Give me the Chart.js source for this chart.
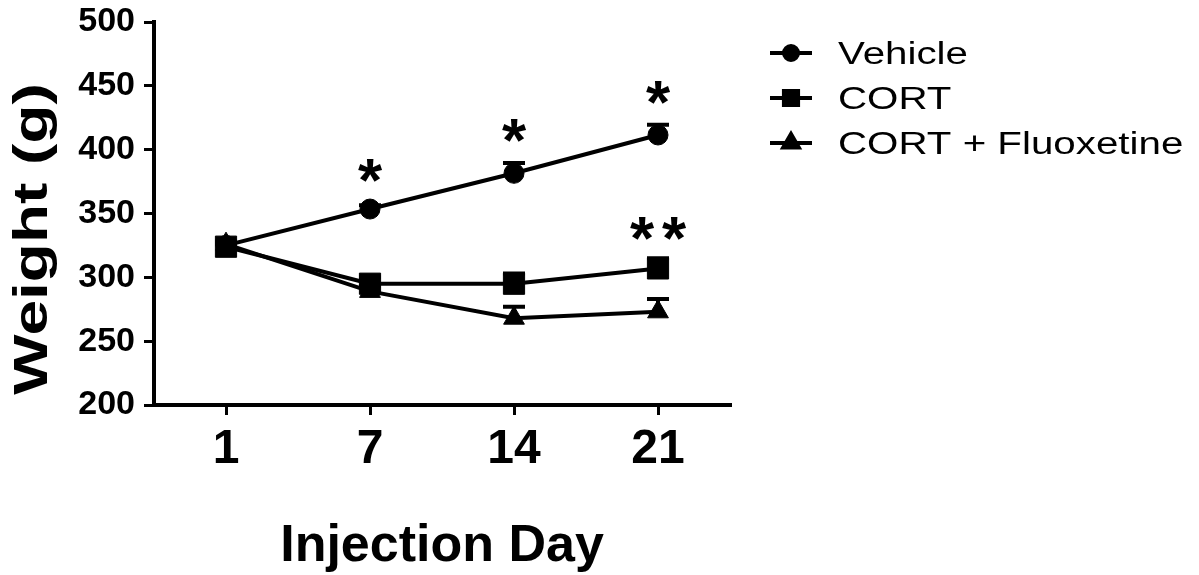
<!DOCTYPE html>
<html lang="en">
<head>
<meta charset="UTF-8">
<title>Weight by Injection Day</title>
<script src="https://cdn.jsdelivr.net/npm/chart.js"></script>
<style>
    * { margin: 0; padding: 0; box-sizing: border-box; }
    body { background: #fff; }
    .wrap { width: 1199px; height: 575px; position: relative; }
</style>
</head>
<body>
<div class="wrap"><canvas id="weightChart"></canvas></div>
<script>
    // data
    const days = ['1', '7', '14', '21'];
    const vehicle = [325, 353.5, 381.5, 411.5];
    const vehicleErr = [2, 3, 8, 8];
    const cort = [324, 295, 295, 307];
    const cortErr = [2, 5, 8, 8];
    const cortFlx = [326, 289, 268, 273];
    const cortFlxErr = [2, 4, 9, 10];
    const yMin = 200, yMax = 500, yStep = 50;

    // significance marks (text + the weight level they sit at)
    const vehicleStars = ['', '*', '*', '*'];
    const vehicleStarAt = [null, 384, 415, 445];
    const cortStars = ['', '', '', '**'];
    const cortStarAt = [null, null, null, 338.6];

    const FONT = "'Liberation Sans', Arial, sans-serif";
    const errs = [vehicleErr, cortErr, cortFlxErr];

    const errorBars = {
        id: 'errorBars',
        afterDatasetsDraw(chart) {
            const { ctx, scales: { x, y } } = chart;
            ctx.save();
            ctx.strokeStyle = '#000';
            ctx.lineWidth = 4;
            chart.data.datasets.forEach((ds, di) => {
                ds.data.forEach((v, i) => {
                    const px = x.getPixelForValue(i);
                    const y0 = y.getPixelForValue(v);
                    const y1 = y.getPixelForValue(v + errs[di][i]);
                    ctx.beginPath();
                    ctx.moveTo(px, y0);
                    ctx.lineTo(px, y1);
                    ctx.moveTo(px - 11, y1);
                    ctx.lineTo(px + 11, y1);
                    ctx.stroke();
                });
            });
            ctx.restore();
        }
    };

    const extras = {
        id: 'extras',
        afterDraw(chart) {
            const { ctx, scales: { x, y } } = chart;
            ctx.save();
            ctx.fillStyle = '#000';

            // asterisks
            ctx.font = 'bold 62px ' + FONT;
            ctx.textAlign = 'center';
            ctx.textBaseline = 'alphabetic';
            const m = ctx.measureText('*');
            const off = (m.actualBoundingBoxAscent - m.actualBoundingBoxDescent) / 2;
            const drawStars = (texts, at) => {
                texts.forEach((t, i) => {
                    if (!t) return;
                    const cx = x.getPixelForValue(i);
                    const cy = y.getPixelForValue(at[i]) + off;
                    const gap = 32;
                    const start = cx - (t.length - 1) * gap / 2;
                    for (let k = 0; k < t.length; k++) {
                        ctx.fillText(t[k], start + k * gap, cy);
                    }
                });
            };
            drawStars(vehicleStars, vehicleStarAt);
            drawStars(cortStars, cortStarAt);

            // x title
            ctx.font = 'bold 52px ' + FONT;
            ctx.textAlign = 'center';
            ctx.fillText('Injection Day', (chart.chartArea.left + chart.chartArea.right) / 2, 561);

            // y title
            ctx.save();
            ctx.translate(34, 239);
            ctx.rotate(-Math.PI / 2);
            ctx.scale(1, 0.74);
            ctx.font = 'bold 64px ' + FONT;
            const mt = ctx.measureText('Weight (g)');
            ctx.fillText('Weight (g)', 0, (mt.actualBoundingBoxAscent - mt.actualBoundingBoxDescent) / 2);
            ctx.restore();

            // legend
            const rows = [53, 98, 143];
            const legendR = [7, 10, 9];
            chart.data.datasets.forEach((ds, i) => {
                const ry = rows[i];
                ctx.strokeStyle = '#000';
                ctx.lineWidth = 4;
                ctx.beginPath();
                ctx.moveTo(770, ry);
                ctx.lineTo(812, ry);
                ctx.stroke();
                Chart.helpers.drawPoint(ctx, {
                    pointStyle: ds.pointStyle, radius: legendR[i], rotation: 0, borderWidth: 1
                }, 791, ry);
                ctx.fill();
                ctx.save();
                ctx.translate(838, ry + 11);
                ctx.scale(1.3, 1);
                ctx.font = '31px ' + FONT;
                ctx.textAlign = 'left';
                ctx.fillText(ds.label, 0, 0);
                ctx.restore();
            });
            ctx.restore();
        }
    };

    const axisGrid = {
        display: true,
        drawOnChartArea: false,
        drawTicks: true,
        tickLength: 10,
        color: '#000',
        lineWidth: 3
    };

    const line = (label, data, style, r) => ({
        label: label,
        data: data,
        borderColor: '#000',
        backgroundColor: '#000',
        borderWidth: 4,
        pointStyle: style,
        pointRadius: r,
        pointHoverRadius: r,
        pointBackgroundColor: '#000',
        pointBorderColor: '#000',
        pointBorderWidth: 1,
        tension: 0,
        fill: false
    });

    new Chart(document.getElementById('weightChart'), {
        type: 'line',
        data: {
            labels: days,
            datasets: [
                line('Vehicle', vehicle, 'circle', 10),
                line('CORT', cort, 'rect', 15),
                line('CORT + Fluoxetine', cortFlx, 'triangle', 12)
            ]
        },
        options: {
            responsive: true,
            maintainAspectRatio: false,
            animation: false,
            layout: { padding: { top: 22, right: 469, left: 0, bottom: 0 } },
            plugins: { legend: { display: false }, tooltip: { enabled: false } },
            scales: {
                x: {
                    type: 'category',
                    offset: true,
                    grid: axisGrid,
                    border: { display: true, color: '#000', width: 4 },
                    ticks: { color: '#000', padding: 6, font: { family: FONT, size: 48, weight: 'bold' } },
                    afterFit(s) { s.height = 170; s.paddingLeft = 0; s.paddingRight = 0; }
                },
                y: {
                    min: yMin,
                    max: yMax,
                    grid: axisGrid,
                    border: { display: true, color: '#000', width: 4 },
                    ticks: { stepSize: yStep, color: '#000', padding: 9, font: { family: FONT, size: 34, weight: 'bold' } },
                    afterFit(s) { s.width = 154; s.paddingTop = 0; s.paddingBottom = 0; }
                }
            }
        },
        plugins: [errorBars, extras]
    });
</script>
</body>
</html>
